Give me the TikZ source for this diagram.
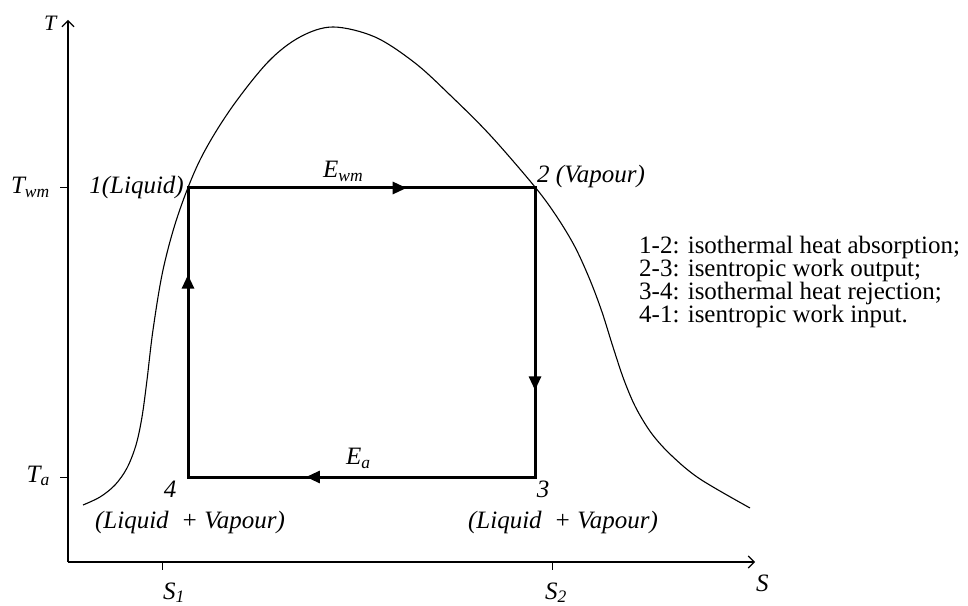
\documentclass[tikz,border=0pt]{standalone}
\usepackage{fontspec}
\setmainfont{Liberation Serif}
\usetikzlibrary{arrows.meta, decorations.markings}

\begin{document}
\begin{tikzpicture}[x=1pt, y=1pt,
  axis/.style={line width=1.1pt, -{Straight Barb[length=6pt, width=12pt]}},
  tickmark/.style={line width=1pt},
  cycleline/.style={line width=3pt, line cap=rect},
  flow/.style={postaction={decorate}, decoration={markings,
    mark=at position #1 with {\arrow{Triangle[length=14pt, width=12pt]}}}},
  lbl/.style={font=\fontsize{25}{23}\selectfont\itshape, inner sep=0pt},
  legend/.style={font=\fontsize{25}{23}\selectfont, inner sep=0pt, anchor=base west}]
\useasboundingbox (0,0) rectangle (968,605);
% Axes
\coordinate (o) at (68,43);
\coordinate (ytop) at (68,585);
\coordinate (xend) at (755,43);
\draw[axis] (o) -- (ytop);
\draw[axis] (o) -- (xend);
\node[lbl, font=\fontsize{22}{22}\selectfont\itshape, anchor=base west] (tlab) at (44,574) {T};
\node[lbl, anchor=base west] (slab) at (756,14) {S};
% Ticks
\draw[tickmark] (60,417) -- (68,417);
\draw[tickmark] (60,128) -- (68,128);
\draw[tickmark] (162,43) -- (162,35);
\draw[tickmark] (552,43) -- (552,35);
\node[lbl, anchor=base east] (twm) at (50,411) {T\textsubscript{wm}};
\node[lbl, anchor=base east] (ta) at (50,123) {T\textsubscript{a}};
\node[lbl, anchor=base west] (s1) at (163,6) {S\textsubscript{1}};
\node[lbl, anchor=base west] (s2) at (545,6) {S\textsubscript{2}};
% Saturation dome
\draw[line width=1.1pt] plot[smooth, tension=0.55] coordinates {
  (83,100) (100,108) (115,120) (127,137) (136,160) (142,188) (147,225)
  (153,275) (163,335) (178,390) (200,445) (230,495) (268,543) (300,568)
  (333,578) (375,568) (415,542) (450,510) (490,470) (535,418) (557,388)
  (575,358) (590,325) (602,293) (613,258) (624,225) (636,197) (652,171)
  (672,149) (700,126) (750,97)};
% Cycle states
\coordinate (p1) at (188,417);
\coordinate (p2) at (535,417);
\coordinate (p3) at (535,128);
\coordinate (p4) at (188,128);
\draw[cycleline, flow=0.63] (p1) -- (p2);
\draw[cycleline, flow=0.70] (p2) -- (p3);
\draw[cycleline, flow=0.66] (p3) -- (p4);
\draw[cycleline, flow=0.70] (p4) -- (p1);
% State labels
\node[lbl, anchor=base east] (l1) at (184,411) {1(Liquid)};
\node[lbl, anchor=base west] (l2) at (537,422) {2 (Vapour)};
\node[lbl, anchor=base] (l3) at (543,108) {3};
\node[lbl, anchor=base] (l4) at (170,108) {4};
\node[lbl, anchor=base] (m3) at (563,77) {(Liquid \ + Vapour)};
\node[lbl, anchor=base] (m4) at (190,77) {(Liquid \ + Vapour)};
\node[lbl, anchor=base west] (ewm) at (323,427) {E\textsubscript{wm}};
\node[lbl, anchor=base west] (ea) at (346,140) {E\textsubscript{a}};
% Process legend
\foreach \y/\txt in {351/1-2: isothermal heat absorption;, 328/2-3: isentropic work output;,
                     305/3-4: isothermal heat rejection;, 282/4-1: isentropic work input.} {
  \node[legend] at (639,\y) {\txt};
}
\end{tikzpicture}
\end{document}
